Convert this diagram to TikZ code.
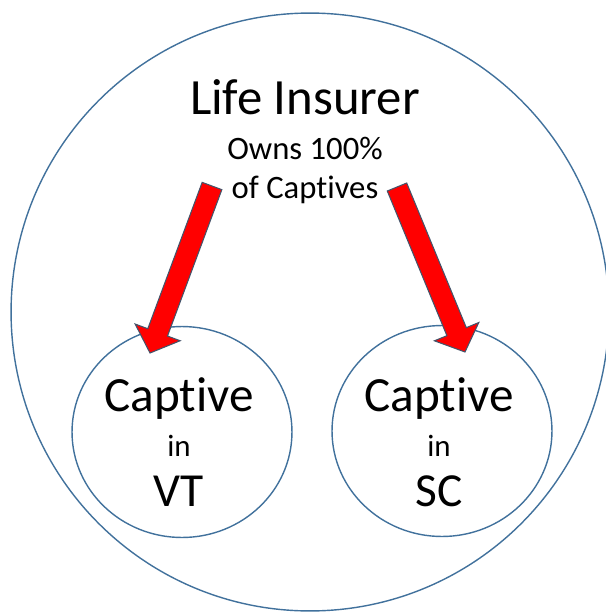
\documentclass[tikz,border=0pt]{standalone}
\usepackage{fontspec}
\setmainfont[Ligatures={NoCommon,NoContextual,NoRare}]{Carlito}
\usetikzlibrary{calc,shapes.geometric}

\definecolor{ringblue}{RGB}{65,113,156}
\definecolor{arrowedge}{RGB}{68,84,106}

% block arrow from tail #1 to tip #2
\newcommand{\shafthw}{0.21cm}
\newcommand{\headhw}{0.48cm}
\newcommand{\headlen}{0.44cm}
\newcommand{\blockarrow}[2]{%
  \coordinate (#2-base) at ($(#2)!\headlen!(#1)$);
  \filldraw[arrowfill] ($(#1)!\shafthw!90:(#2)$) -- ($(#2-base)!\shafthw!90:(#2)$)
    -- ($(#2-base)!\headhw!90:(#2)$) -- (#2) -- ($(#2-base)!\headhw!-90:(#2)$)
    -- ($(#2-base)!\shafthw!-90:(#2)$) -- ($(#1)!\shafthw!-90:(#2)$) -- cycle;}

\begin{document}
\begin{tikzpicture}[
        x=0.02cm, y=-0.02cm,
        ring/.style={draw=ringblue, line width=0.8pt, inner sep=0pt},
        smallring/.style={ring, ellipse, minimum width=4.4cm, minimum height=4.22cm},
        arrowfill/.style={fill=red, draw=arrowedge, line width=0.6pt, line join=miter},
        label/.style={anchor=base, inner sep=0pt}
    ]
        \useasboundingbox (0,0) rectangle (606,613);
        \clip (0,0) rectangle (606,613);

        \node[ring, circle, minimum size=11.96cm] (insurer) at (310,312) {};
        \node[smallring] (vt) at (182,432) {};
        \node[smallring] (sc) at (442,431) {};

        \node[label, font=\fontsize{28.9}{34}\selectfont] (title) at (305,114) {Life Insurer};
        \node[label, font=\fontsize{18.6}{22}\selectfont] (owns) at (305,159) {Owns 100\%};
        \node[label, font=\fontsize{18.6}{22}\selectfont] (ofcapt) at (305,198) {of Captives};

        \node[label, font=\fontsize{28}{34}\selectfont] (vtcapt) at (179,411) {Captive};
        \node[label, font=\fontsize{17.6}{20}\selectfont] (vtin) at (179,456) {in};
        \node[label, font=\fontsize{27}{32}\selectfont] (vtname) at (179,506) {VT};

        \node[label, font=\fontsize{28}{34}\selectfont] (sccapt) at (439,411) {Captive};
        \node[label, font=\fontsize{17.6}{20}\selectfont] (scin) at (439,456) {in};
        \node[label, font=\fontsize{27}{32}\selectfont] (scname) at (439,506) {SC};

        % arrows
        \coordinate (vttail) at (212,186);
        \coordinate (vttip) at (150,353);
        \coordinate (sctail) at (397,187);
        \coordinate (sctip) at (465,352);
        \blockarrow{vttail}{vttip}
        \blockarrow{sctail}{sctip}
    \end{tikzpicture}
\end{document}
